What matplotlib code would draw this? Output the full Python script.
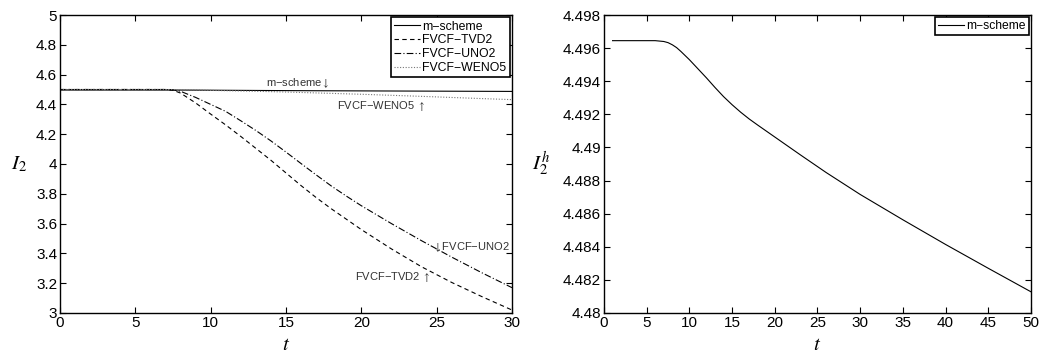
import matplotlib
matplotlib.use('Agg')
from matplotlib import pyplot as plt

plt.rcParams['font.family'] = ['Liberation Sans', 'DejaVu Sans']
plt.rcParams['mathtext.fontset'] = 'stix'

# left panel
t_left = [0, 5, 7, 7.5, 8, 9, 10, 11, 12, 13, 14, 15, 16, 17, 18, 19, 20, 22, 24, 26, 28, 30]
m_left = [4.49645, 4.49645, 4.4964, 4.49633, 4.4962, 4.4958, 4.4953, 4.49475, 4.4942, 4.49362, 4.49307,
          4.49258, 4.49213, 4.49172, 4.49135, 4.49099, 4.49063, 4.48991, 4.48919, 4.48849, 4.48782, 4.48716]
tvd2 = [4.5, 4.5, 4.5, 4.495, 4.476, 4.41, 4.335, 4.262, 4.185, 4.105, 4.025,
        3.94, 3.855, 3.775, 3.70, 3.63, 3.56, 3.43, 3.31, 3.205, 3.11, 3.02]
uno2 = [4.5, 4.5, 4.5, 4.497, 4.488, 4.447, 4.40, 4.353, 4.29, 4.225, 4.155,
        4.08, 4.003, 3.927, 3.853, 3.785, 3.72, 3.60, 3.485, 3.375, 3.27, 3.17]
weno5 = [4.5, 4.5, 4.5, 4.4995, 4.499, 4.497, 4.494, 4.492, 4.490, 4.488, 4.4855,
         4.483, 4.48, 4.477, 4.474, 4.471, 4.468, 4.461, 4.454, 4.4465, 4.439, 4.432]

# right panel
t_right = [1, 5, 6, 7, 7.5, 8, 8.5, 9, 10, 11, 12, 13, 14, 15, 16, 17, 18, 20, 23, 26, 30, 35, 40, 45, 50]
m_right = [4.49645, 4.49645, 4.49645, 4.4964, 4.49633, 4.4962, 4.49603, 4.4958, 4.4953, 4.49475,
           4.4942, 4.49362, 4.49307, 4.49258, 4.49213, 4.49172, 4.49135, 4.49063, 4.48955,
           4.48849, 4.48716, 4.48563, 4.48414, 4.4827, 4.48128]

fig = plt.figure(figsize=(10.47, 3.58), dpi=100)
ax1 = fig.add_axes([0.0573, 0.1257, 0.4317, 0.8324])
ax2 = fig.add_axes([0.5769, 0.1257, 0.4078, 0.8324])

ax1.plot(t_left, m_left, color='black', lw=0.8, label='m\u2212scheme')
ax1.plot(t_left, tvd2, color='black', lw=0.8, ls=(0, (4, 3)), label='FVCF\u2212TVD2')
ax1.plot(t_left, uno2, color='black', lw=0.8, ls=(0, (6, 2, 1, 2)), label='FVCF\u2212UNO2')
ax1.plot(t_left, weno5, color='#777777', lw=0.8, ls=(0, (1, 1.5)), label='FVCF\u2212WENO5')
ax1.set_xlim(0, 30)
ax1.set_ylim(3, 5)
ax1.set_xticks(range(0, 31, 5))
ax1.set_yticks([3, 3.2, 3.4, 3.6, 3.8, 4, 4.2, 4.4, 4.6, 4.8, 5])
ax1.set_yticklabels(['3', '3.2', '3.4', '3.6', '3.8', '4', '4.2', '4.4', '4.6', '4.8', '5'])
ax1.set_xlabel('$t$', fontsize=15, labelpad=4)
ax1.set_ylabel('$I_2$', fontsize=15, rotation=0, labelpad=12, va='center')
leg1 = ax1.legend(loc='upper right', fontsize=8.8, fancybox=False, edgecolor='black',
                  framealpha=1, handlelength=2.1, borderpad=0.25, labelspacing=0.15,
                  handletextpad=0.2, borderaxespad=0.2)
leg1.get_frame().set_linewidth(1.2)

ann = dict(fontsize=8, color='#333333', ha='center', va='center')
ax1.text(15.76, 4.544, 'm\u2212scheme$\\downarrow$', **ann)
ax1.text(21.3, 4.389, 'FVCF\u2212WENO5 $\\uparrow$', **ann)
ax1.text(27.3, 3.445, '$\\downarrow$FVCF\u2212UNO2', **ann)
ax1.text(22.1, 3.244, 'FVCF\u2212TVD2 $\\uparrow$', **ann)

ax2.plot(t_right, m_right, color='black', lw=0.8, label='m\u2212scheme')
ax2.set_xlim(0, 50)
ax2.set_ylim(4.48, 4.498)
ax2.set_xticks(range(0, 51, 5))
yt = [4.48, 4.482, 4.484, 4.486, 4.488, 4.49, 4.492, 4.494, 4.496, 4.498]
ax2.set_yticks(yt)
ax2.set_yticklabels(['4.48', '4.482', '4.484', '4.486', '4.488', '4.49', '4.492', '4.494', '4.496', '4.498'])
ax2.set_xlabel('$t$', fontsize=15, labelpad=4)
ax2.set_ylabel('$I_2^h$', fontsize=15, rotation=0, labelpad=16, va='center')
leg2 = ax2.legend(loc='upper right', fontsize=8.7, fancybox=False, edgecolor='black',
                  framealpha=1, handlelength=2.1, borderpad=0.25,
                  handletextpad=0.2, borderaxespad=0.2)
leg2.get_frame().set_linewidth(1.2)

for ax in (ax1, ax2):
    ax.tick_params(direction='in', top=True, right=True, labelsize=11, length=4, width=0.8, pad=2)
    for s in ax.spines.values():
        s.set_linewidth(1.0)

fig.savefig('out.png', dpi=100)
